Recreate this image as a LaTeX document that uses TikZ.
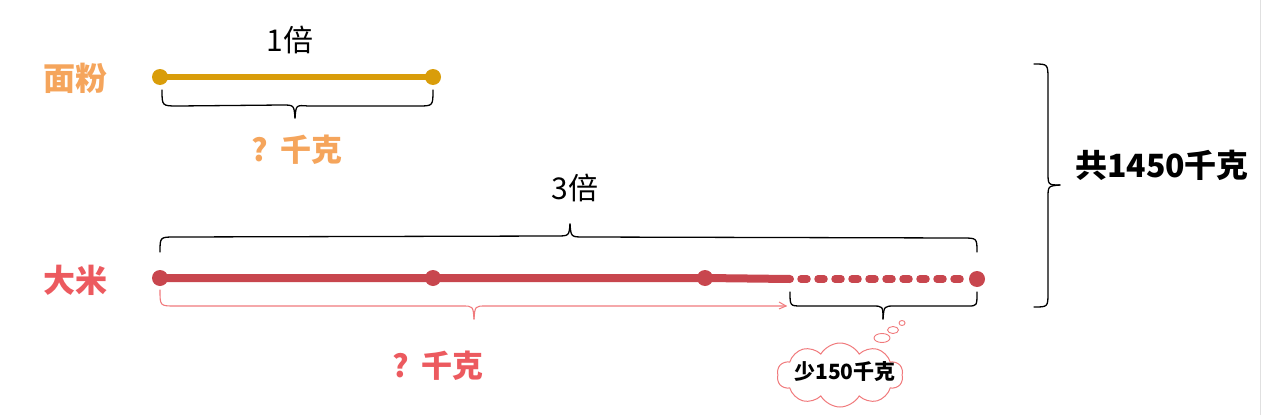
\documentclass[tikz,border=0pt]{standalone}
\usepackage{fontspec}
\setmainfont{Noto Sans CJK SC}
\usetikzlibrary{shapes.geometric,shapes.symbols,calc}
\definecolor{flourline}{HTML}{D99D0A}
\definecolor{flourtxt}{HTML}{F5A55C}
\definecolor{riceline}{HTML}{C8464E}
\definecolor{ricetxt}{HTML}{EC5A5F}
\definecolor{ricebrace}{HTML}{F07A7C}
\tikzset{
  lbl/.style={inner sep=0pt, font=\fontsize{32}{32}\selectfont\bfseries},
  qlbl/.style={inner sep=0pt, font=\fontsize{31}{31}\selectfont\bfseries},
  times/.style={inner sep=0pt, font=\fontsize{30}{30}\selectfont},
  dotnode/.style={circle, inner sep=0pt, minimum size=16pt},
  bracepath/.style={line width=1.3pt, line cap=round, line join=round},
  bubble/.style={ellipse, draw=ricebrace, line width=0.9pt, inner sep=0pt},
}
\begin{document}
\begin{tikzpicture}[x=1pt,y=-1pt]
\useasboundingbox (0,0) rectangle (1261,415);
\draw[black!12, line width=1pt] (1260,0) -- (1260,415);

% labels
\node[lbl, text=flourtxt] (mf) at (75,78) {面粉};
\node[lbl, text=ricetxt] (dm) at (75,280) {大米};
\node[times] (b1) at (290,40) {1倍};
\node[times] (b3) at (575,188) {3倍};
\node[qlbl, text=flourtxt] (q1) at (297,150) {?\hspace{12pt}千克};
\node[qlbl, text=ricetxt] (q2) at (438,366) {?\hspace{12pt}千克};
\node[inner sep=0pt, font=\fontsize{32}{32}\selectfont\bfseries] (tot) at (1162,165) {共1450千克};

% flour line
\coordinate (fa) at (160,77);
\coordinate (fb) at (433,77);
\draw[flourline, line width=6.5pt] (fa) -- (fb);
\node[dotnode, fill=flourline] (fd1) at (fa) {};
\node[dotnode, fill=flourline] (fd2) at (fb) {};

% rice line
\coordinate (ra) at (160,278);
\coordinate (rb) at (433,278);
\coordinate (rc) at (705,278);
\coordinate (rm) at (790,279);
\coordinate (rd) at (977,279);
\draw[riceline, line width=8pt, line cap=round] (ra) -- (rb) -- (rc) -- (rm);
\draw[riceline, line width=7.5pt, line cap=round, dash pattern=on 6pt off 11pt] ($(rm)+(11,0)$) -- ($(rd)-(8,0)$);
\node[dotnode, fill=riceline] (rd1) at (ra) {};
\node[dotnode, fill=riceline] (rd2) at (rb) {};
\node[dotnode, fill=riceline] (rd3) at (rc) {};
\node[dotnode, fill=riceline] (rd4) at (rd) {};

% flour brace (below)
\draw[bracepath] (162,90) .. controls (162,106) .. (178,106) -- (282,105)
  .. controls (294,105) .. (295,118);
\draw[bracepath] (295,118) .. controls (296,105) .. (308,106) -- (418,106)
  .. controls (433,106) .. (433,90);

% rice top brace (above)
\draw[bracepath] (160,252) .. controls (160,237) .. (175,237) -- (556,236)
  .. controls (569,236) .. (570,224);
\draw[bracepath] (570,224) .. controls (571,237) .. (584,237) -- (962,238)
  .. controls (977,238) .. (977,252);

% pink brace under solid part
\draw[bracepath, ricebrace, line width=1.1pt] (160,290) .. controls (160,306) .. (175,306) -- (462,306)
  .. controls (473,306) .. (474,319);
\draw[bracepath, ricebrace, line width=1.1pt] (474,319) .. controls (475,306) .. (486,306) -- (786,306);
\draw[ricebrace, line width=1pt] (779,302) -- (786,306) -- (779,309);

% black brace under dashed part
\draw[bracepath] (790,292) .. controls (790,306) .. (802,306) -- (872,306)
  .. controls (883,306) .. (883,319);
\draw[bracepath] (883,319) .. controls (884,306) .. (895,306) -- (968,306)
  .. controls (977,306) .. (977,292);

% big right brace
\draw[bracepath] (1034,64) .. controls (1048,64) .. (1048,80) -- (1048,172)
  .. controls (1048,185) .. (1060,185);
\draw[bracepath] (1060,185) .. controls (1048,186) .. (1048,198) -- (1048,292)
  .. controls (1048,307) .. (1034,307);

% thought bubble
\node[bubble, minimum width=6pt, minimum height=5pt] (t1) at (902,323) {};
\node[bubble, minimum width=11pt, minimum height=7pt] (t2) at (893,330) {};
\node[bubble, minimum width=16pt, minimum height=9pt] (t3) at (882,338) {};
\node[cloud, cloud puffs=10, cloud puff arc=120, draw=ricebrace, line width=1pt,
      minimum width=126pt, minimum height=64pt, inner sep=0pt, aspect=2] (cl) at (840,375) {};
\node[inner sep=0pt, font=\fontsize{21}{21}\selectfont\bfseries] (less) at (845,372) {少150千克};
\end{tikzpicture}
\end{document}
